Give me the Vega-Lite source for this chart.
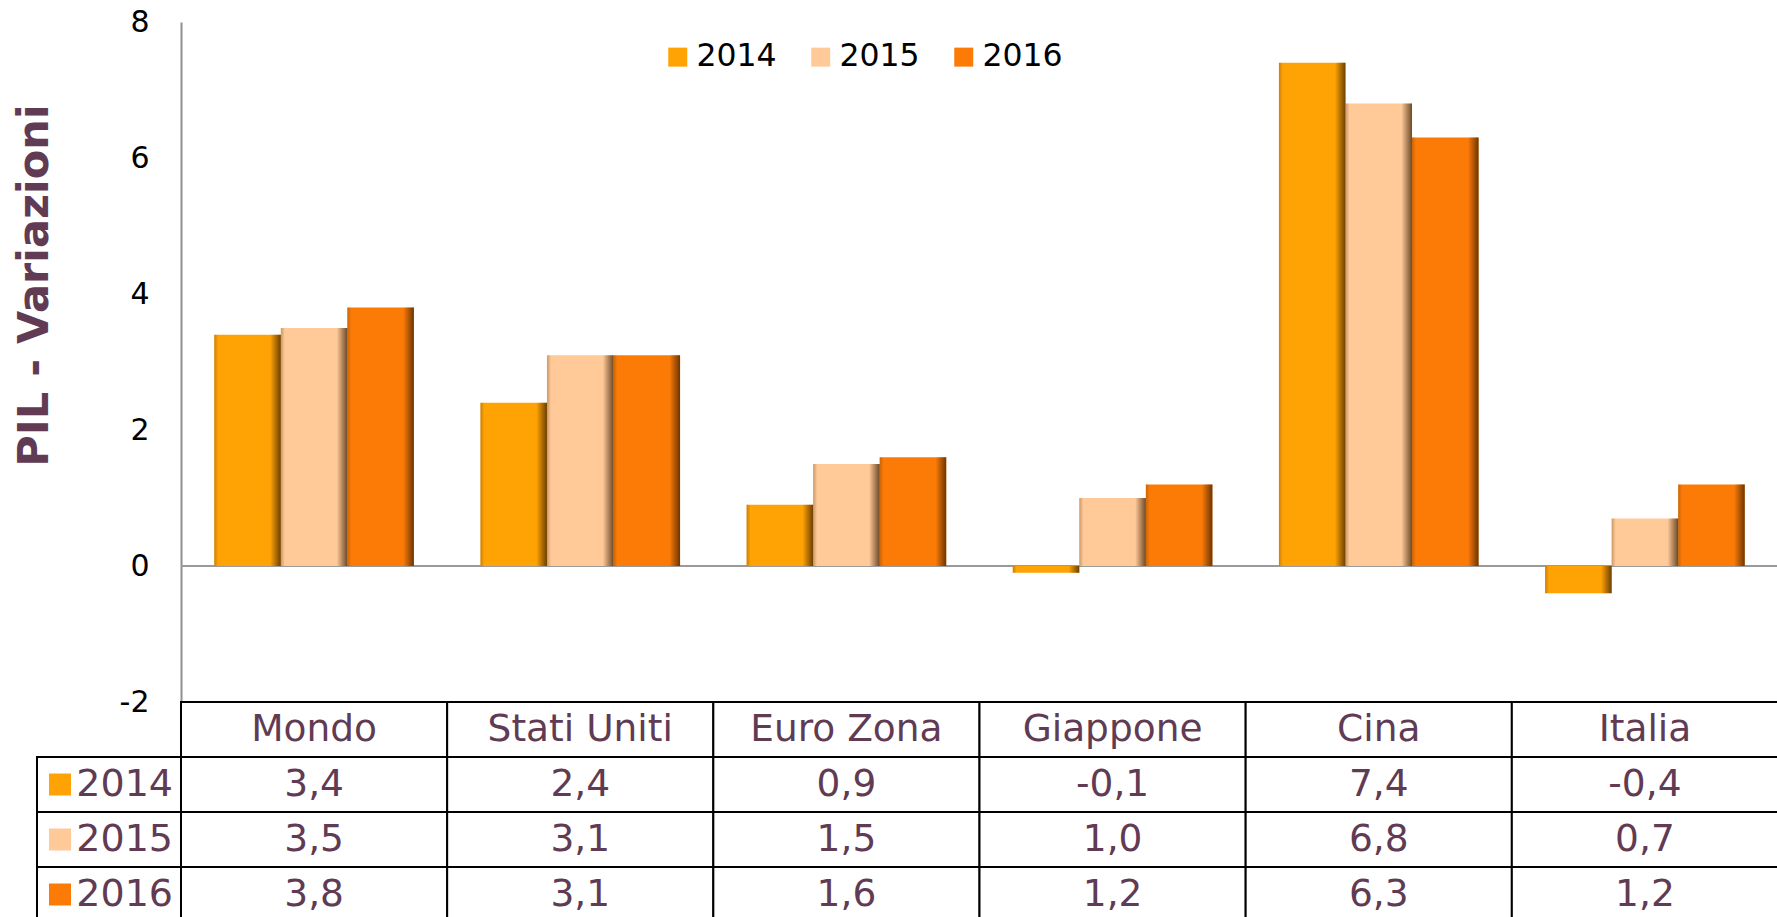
{
  "$schema": "https://vega.github.io/schema/vega-lite/v6.json",
  "background": "white",
  "padding": {"top": 7, "left": 13, "right": 0, "bottom": 0},
  "datasets": {
    "pil": [
      {"paese": "Mondo", "anno": "2014", "valore": 3.4},
      {"paese": "Mondo", "anno": "2015", "valore": 3.5},
      {"paese": "Mondo", "anno": "2016", "valore": 3.8},
      {"paese": "Stati Uniti", "anno": "2014", "valore": 2.4},
      {"paese": "Stati Uniti", "anno": "2015", "valore": 3.1},
      {"paese": "Stati Uniti", "anno": "2016", "valore": 3.1},
      {"paese": "Euro Zona", "anno": "2014", "valore": 0.9},
      {"paese": "Euro Zona", "anno": "2015", "valore": 1.5},
      {"paese": "Euro Zona", "anno": "2016", "valore": 1.6},
      {"paese": "Giappone", "anno": "2014", "valore": -0.1},
      {"paese": "Giappone", "anno": "2015", "valore": 1.0},
      {"paese": "Giappone", "anno": "2016", "valore": 1.2},
      {"paese": "Cina", "anno": "2014", "valore": 7.4},
      {"paese": "Cina", "anno": "2015", "valore": 6.8},
      {"paese": "Cina", "anno": "2016", "valore": 6.3},
      {"paese": "Italia", "anno": "2014", "valore": -0.4},
      {"paese": "Italia", "anno": "2015", "valore": 0.7},
      {"paese": "Italia", "anno": "2016", "valore": 1.2}
    ]
  },
  "columns": 2,
  "spacing": 0,
  "bounds": "flush",
  "resolve": {"scale": {"color": "independent", "x": "independent", "y": "independent"}, "legend": {"color": "independent"}},
  "concat": [
    {
      "width": 144,
      "height": 680,
      "data": {"values": [{}]},
      "mark": {"type": "text", "text": ""}
    },
    {
      "width": 1597,
      "height": 680,
      "data": {"name": "pil"},
      "layer": [
        {
          "mark": {"type": "rule", "color": "#9a9a9a", "strokeWidth": 2},
          "encoding": {"y": {"datum": 0, "type": "quantitative"}}
        },
        {
          "mark": {"type": "bar"},
          "encoding": {
            "x": {"field": "paese", "type": "nominal", "sort": null,
                  "scale": {"domain": ["Mondo", "Stati Uniti", "Euro Zona", "Giappone", "Cina", "Italia"], "paddingInner": 0.25, "paddingOuter": 0.125},
                  "axis": null},
            "xOffset": {"field": "anno", "type": "nominal"},
            "y": {"field": "valore", "type": "quantitative",
                  "scale": {"domain": [-2, 8], "nice": false},
                  "axis": {"values": [-2, 0, 2, 4, 6, 8], "format": "d", "ticks": false, "grid": false,
                           "domainColor": "#8f8f8f", "domainWidth": 2,
                           "labelFont": "DejaVu Sans", "labelFontSize": 30, "labelColor": "#000000",
                           "labelPadding": 32, "labelFlush": false, "labelOverlap": false,
                           "title": "PIL - Variazioni", "titleFont": "DejaVu Sans", "titleFontSize": 43,
                           "titleFontWeight": "bold", "titleColor": "#603B53", "titlePadding": 63,
                           "titleY": 263}},
            "color": {"field": "anno", "type": "nominal",
                      "scale": {"domain": ["2014", "2015", "2016"], "range": ["#FFA305", "#FFC998", "#FC7B07"]},
                      "legend": {"title": null, "orient": "none", "legendX": 481, "legendY": 19,
                                 "direction": "horizontal", "symbolType": "square", "symbolSize": 361,
                                 "symbolStrokeWidth": 0, "symbolOpacity": 1,
                                 "labelFont": "DejaVu Sans", "labelFontSize": 31.5, "labelColor": "#000000",
                                 "labelOffset": 3, "columnPadding": 28}}
          }
        },
        {
          "mark": {"type": "bar",
                   "fill": {"gradient": "linear", "x1": 0, "y1": 0, "x2": 1, "y2": 0,
                            "stops": [
                              {"offset": 0, "color": "rgba(110,60,0,0.35)"},
                              {"offset": 0.06, "color": "rgba(110,60,0,0)"},
                              {"offset": 0.84, "color": "rgba(60,30,0,0)"},
                              {"offset": 1, "color": "rgba(60,30,0,0.75)"}
                            ]}},
          "encoding": {
            "x": {"field": "paese", "type": "nominal", "sort": null},
            "xOffset": {"field": "anno", "type": "nominal"},
            "y": {"field": "valore", "type": "quantitative"}
          }
        }
      ]
    },
    {
      "width": 144,
      "height": 220,
      "data": {"name": "pil"},
      "transform": [{"filter": "datum.paese === 'Mondo'"}],
      "encoding": {
        "y": {"field": "anno", "type": "nominal",
              "scale": {"domain": ["hdr", "2014", "2015", "2016"], "paddingInner": 0, "paddingOuter": 0},
              "axis": null}
      },
      "layer": [
        {"mark": {"type": "rect", "fill": "white", "stroke": "black", "strokeWidth": 2}},
        {
          "mark": {"type": "point", "shape": "square", "filled": true, "size": 484, "opacity": 1},
          "encoding": {
            "x": {"datum": "sw", "type": "nominal",
                  "scale": {"type": "point", "domain": ["sw", "lab"], "padding": 0.137, "align": 0.742},
                  "axis": null},
            "color": {"field": "anno", "type": "nominal",
                      "scale": {"domain": ["2014", "2015", "2016"], "range": ["#FFA305", "#FFC998", "#FC7B07"]},
                      "legend": null}
          }
        },
        {
          "mark": {"type": "text", "align": "right", "font": "DejaVu Sans", "fontSize": 38, "color": "#603B53"},
          "encoding": {
            "x": {"datum": "lab", "type": "nominal"},
            "text": {"field": "anno"}
          }
        }
      ]
    },
    {
      "width": 1597,
      "height": 220,
      "data": {"name": "pil"},
      "encoding": {
        "x": {"field": "paese", "type": "nominal", "sort": null,
              "scale": {"domain": ["Mondo", "Stati Uniti", "Euro Zona", "Giappone", "Cina", "Italia"], "paddingInner": 0, "paddingOuter": 0},
              "axis": null}
      },
      "layer": [
        {
          "transform": [{"filter": "datum.anno === '2014'"}],
          "mark": {"type": "rect", "fill": "white", "stroke": "black", "strokeWidth": 2},
          "encoding": {"y": {"datum": "hdr", "type": "nominal",
                             "scale": {"domain": ["hdr", "2014", "2015", "2016"], "paddingInner": 0, "paddingOuter": 0},
                             "axis": null}}
        },
        {
          "mark": {"type": "rect", "fill": "white", "stroke": "black", "strokeWidth": 2},
          "encoding": {"y": {"field": "anno", "type": "nominal"}}
        },
        {
          "transform": [{"filter": "datum.anno === '2014'"}],
          "mark": {"type": "text", "font": "DejaVu Sans", "fontSize": 37.5, "color": "#603B53"},
          "encoding": {"y": {"datum": "hdr", "type": "nominal"}, "text": {"field": "paese"}}
        },
        {
          "mark": {"type": "text", "font": "DejaVu Sans", "fontSize": 37.5, "color": "#603B53"},
          "encoding": {"y": {"field": "anno", "type": "nominal"},
                       "text": {"field": "valore", "type": "quantitative", "format": ".1f"}}
        }
      ]
    }
  ],
  "config": {
    "view": {"stroke": null},
    "font": "DejaVu Sans",
    "locale": {"number": {"decimal": ",", "thousands": ".", "grouping": [3], "currency": ["€", ""], "minus": "-"}}
  }
}
